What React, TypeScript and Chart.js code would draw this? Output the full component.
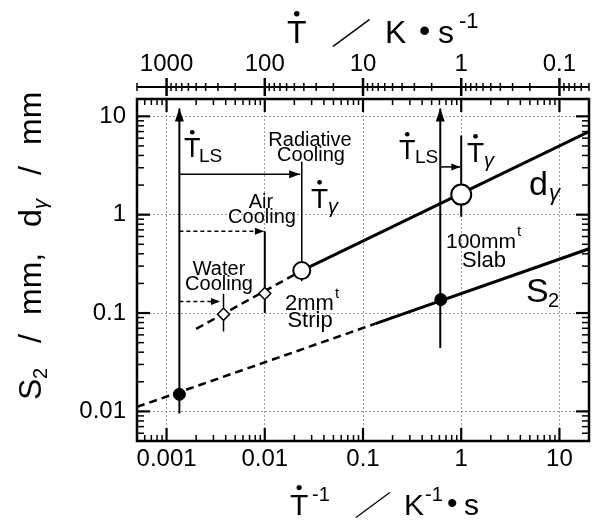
import React, { useEffect, useRef } from 'react';
import { Chart, registerables } from 'chart.js';

Chart.register(...registerables);

const FONT = '"Liberation Sans", Arial, Helvetica, sans-serif';
const CJK = '"Noto Sans CJK JP", "Liberation Sans", sans-serif';

// ---- axis ranges and tick labels ----
const xRange = [0.0005, 20];
const yRange = [0.005, 15];
const bottomTickValues = [0.001, 0.01, 0.1, 1, 10];
const bottomTickLabels = ['0.001', '0.01', '0.1', '1', '10'];
const topTickValues = [1000, 100, 10, 1, 0.1];
const topTickLabels = ['1000', '100', '10', '1', '0.1'];
const leftTickValues = [0.01, 0.1, 1, 10];
const leftTickLabels = ['0.01', '0.1', '1', '10'];

// ---- series (x = 1/Tdot [K^-1 s], y = size [mm]) ----
const dGammaSolid = [{ x: 0.0238, y: 0.27 }, { x: 20, y: 7.0 }];
const dGammaDashed = [{ x: 0.002, y: 0.069 }, { x: 0.0238, y: 0.27 }];
const s2Solid = [{ x: 0.134, y: 0.078 }, { x: 20, y: 0.45 }];
const s2Dashed = [{ x: 0.0005, y: 0.0111 }, { x: 0.134, y: 0.078 }];
const stripPoint = [{ x: 0.0238, y: 0.27 }];
const slabPoint = [{ x: 1, y: 1.6 }];
const s2Points = [{ x: 0.00135, y: 0.0149 }, { x: 0.62, y: 0.137 }];
const coolingPoints = [{ x: 0.0038, y: 0.097 }, { x: 0.01, y: 0.158 }];

// vertical marker lines
const tlsLeftLine = [{ x: 0.00135, y: 0.0095 }, { x: 0.00135, y: 12 }];
const tlsRightLine = [{ x: 0.612, y: 0.044 }, { x: 0.612, y: 12 }];
const radiativeLine = [{ x: 0.0238, y: 3.46 }, { x: 0.0238, y: 0.21 }];
const slabLine = [{ x: 1, y: 6.4 }, { x: 1, y: 0.95 }];
const airLine = [{ x: 0.01, y: 0.68 }, { x: 0.01, y: 0.1 }];
const waterLine = [{ x: 0.0038, y: 0.157 }, { x: 0.0038, y: 0.065 }];

// horizontal arrows
const radiativeArrow = [{ x: 0.00135, y: 2.57 }, { x: 0.0229, y: 2.57 }];
const airArrow = [{ x: 0.00135, y: 0.68 }, { x: 0.0098, y: 0.68 }];
const waterArrow = [{ x: 0.00135, y: 0.131 }, { x: 0.0035, y: 0.131 }];
const slabArrow = [{ x: 0.612, y: 3.06 }, { x: 0.98, y: 3.06 }];

const GRID = '#9a9a9a';

function logTicks(min: number, max: number): number[] {
  const out: number[] = [];
  for (let e = Math.floor(Math.log10(min)); e <= Math.ceil(Math.log10(max)); e++) {
    for (let k = 1; k <= 9; k++) {
      const v = Number((k * Math.pow(10, e)).toPrecision(6));
      if (v >= min * 0.99999 && v <= max * 1.00001) out.push(v);
    }
  }
  return out;
}
const isDecade = (v: number) => {
  if (!(v > 0)) return false;
  const l = Math.log10(v);
  return Math.abs(l - Math.round(l)) < 1e-6;
};
const findLabel = (v: number, vals: number[], labels: string[]) => {
  for (let i = 0; i < vals.length; i++) if (Math.abs(v / vals[i] - 1) < 1e-6) return labels[i];
  return '';
};

const xTicksAll = logTicks(xRange[0], xRange[1]);
const yTicksAll = logTicks(yRange[0], yRange[1]);
const topTicksAll = logTicks(1 / xRange[1], 1 / xRange[0]); // cooling-rate ticks

const lineDs = (data: any[], width: number, dash: number[] = []) => ({
  data,
  showLine: true,
  borderColor: '#000',
  borderWidth: width,
  borderDash: dash,
  pointRadius: 0,
  pointHoverRadius: 0,
  fill: false,
  tension: 0,
  order: 2,
});

function head(ctx: CanvasRenderingContext2D, x1: number, y1: number, x2: number, y2: number, len: number, hw: number) {
  const dx = x2 - x1, dy = y2 - y1;
  const d = Math.hypot(dx, dy) || 1;
  const ux = dx / d, uy = dy / d;
  ctx.beginPath();
  ctx.moveTo(x2, y2);
  ctx.lineTo(x2 - ux * len - uy * hw, y2 - uy * len + ux * hw);
  ctx.lineTo(x2 - ux * len + uy * hw, y2 - uy * len - ux * hw);
  ctx.closePath();
  ctx.fill();
}

function dotT(ctx: CanvasRenderingContext2D, x: number, base: number, size: number) {
  ctx.font = `${size}px ${FONT}`;
  ctx.textAlign = 'left';
  ctx.fillText('T', x, base);
  const w = ctx.measureText('T').width;
  ctx.beginPath();
  ctx.arc(x + w / 2, base - size * 0.716 - size * 0.2, size * 0.085, 0, Math.PI * 2);
  ctx.fill();
}

function txt(ctx: CanvasRenderingContext2D, s: string, x: number, y: number, size: number, align: CanvasTextAlign = 'left', style = '', family = FONT) {
  ctx.font = `${style} ${size}px ${family}`;
  ctx.textAlign = align;
  ctx.fillText(s, x, y);
  return ctx.measureText(s).width;
}

function slash(ctx: CanvasRenderingContext2D, x: number, base: number, size: number, sx: number) {
  ctx.save();
  ctx.translate(x, base);
  ctx.scale(sx, 1);
  txt(ctx, '／', 0, 0, size, 'left', '', CJK);
  ctx.restore();
}

const decorPlugin = {
  id: 'decor',
  afterDatasetsDraw(chart: any) {
    const ctx: CanvasRenderingContext2D = chart.ctx;
    const { left, right, top, bottom } = chart.chartArea;
    const xs = chart.scales.x, ys = chart.scales.y;
    const X = (v: number) => xs.getPixelForValue(v);
    const Y = (v: number) => ys.getPixelForValue(v);
    const seg = (a: number, b: number, c: number, d: number) => {
      ctx.beginPath(); ctx.moveTo(a, b); ctx.lineTo(c, d); ctx.stroke();
    };
    ctx.save();
    ctx.fillStyle = '#000';
    ctx.strokeStyle = '#000';
    ctx.textBaseline = 'alphabetic';

    // arrowheads
    const arrows: [any[], number, number][] = [
      [radiativeArrow, 11, 4],
      [airArrow, 9, 3.5],
      [waterArrow, 9, 3.5],
      [slabArrow, 9, 3.5],
      [tlsLeftLine, 13, 4.5],
      [tlsRightLine, 13, 4.5],
    ];
    for (const [pts, len, hw] of arrows) {
      const a = pts[pts.length - 2], b = pts[pts.length - 1];
      head(ctx, X(a.x), Y(a.y), X(b.x), Y(b.y), len, hw);
    }

    // frame
    ctx.lineWidth = 2.5;
    ctx.strokeRect(left, top, right - left, bottom - top);

    // inner ticks
    for (const v of xTicksAll) {
      const px = X(v);
      if (px <= left + 1 || px >= right - 1) continue;
      const maj = isDecade(v);
      ctx.lineWidth = maj ? 2.2 : 1.5;
      const len = maj ? 13 : 6;
      seg(px, bottom, px, bottom - len);
      seg(px, top, px, top + len);
    }
    for (const v of yTicksAll) {
      const py = Y(v);
      if (py <= top + 1 || py >= bottom - 1) continue;
      const maj = isDecade(v);
      ctx.lineWidth = maj ? 2.2 : 1.5;
      const len = maj ? 13 : 7;
      seg(left, py, left + len, py);
      seg(right, py, right - len, py);
    }

    // top cooling-rate axis line
    const axisY = 87;
    ctx.lineWidth = 2;
    seg(left, axisY, right, axisY);
    for (const T of topTicksAll) {
      const px = X(1 / T);
      const maj = isDecade(T);
      ctx.lineWidth = maj ? 2.5 : 1.5;
      const h = maj ? 9 : 4;
      seg(px, axisY - h, px, axisY + h);
    }

    // ---- axis titles ----
    // top
    dotT(ctx, 287, 43, 32);
    slash(ctx, 331, 44, 30, 1.35);
    txt(ctx, 'K', 385, 43, 32);
    txt(ctx, '•', 419, 41, 32);
    txt(ctx, 's', 438, 43, 32);
    txt(ctx, '-1', 459, 28, 22);
    // bottom
    dotT(ctx, 290, 515, 30);
    txt(ctx, '-1', 312, 501, 20);
    slash(ctx, 354, 516, 28, 1.35);
    txt(ctx, 'K', 404, 515, 30);
    txt(ctx, '-1', 425, 501, 20);
    txt(ctx, '•', 447, 513, 30);
    txt(ctx, 's', 464, 515, 30);
    // left (rotated)
    ctx.save();
    ctx.translate(41, 245);
    ctx.rotate(-Math.PI / 2);
    txt(ctx, 'S', -155, 0, 32);
    txt(ctx, '2', -134, 6, 20);
    txt(ctx, '/', -98, 0, 32);
    txt(ctx, 'mm,', -70, 0, 32);
    txt(ctx, 'd', 18, 0, 32);
    txt(ctx, 'γ', 36, 6, 20, 'left', 'italic');
    txt(ctx, '/', 70, 0, 32);
    txt(ctx, 'mm', 100, 0, 32);
    ctx.restore();

    // ---- annotations ----
    // left Tdot_LS
    dotT(ctx, 184, 157, 27);
    txt(ctx, 'LS', 199, 162, 19);
    // right Tdot_LS
    dotT(ctx, 399, 159, 27);
    txt(ctx, 'LS', 415, 163, 19);
    // left Tdot_gamma
    dotT(ctx, 311, 208, 28);
    txt(ctx, 'γ', 328, 213, 20, 'left', 'italic');
    // right Tdot_gamma
    dotT(ctx, 467, 162, 28);
    txt(ctx, 'γ', 484, 167, 20, 'left', 'italic');
    // curve labels
    txt(ctx, 'd', 529, 195, 34);
    txt(ctx, 'γ', 549, 200, 22, 'left', 'italic');
    txt(ctx, 'S', 526, 302, 34);
    txt(ctx, '2', 548, 307, 20);
    // cooling labels
    txt(ctx, 'Radiative', 310, 146, 20, 'center');
    txt(ctx, 'Cooling', 311, 161, 20, 'center');
    txt(ctx, 'Air', 261, 208, 20, 'center');
    txt(ctx, 'Cooling', 262, 223, 20, 'center');
    txt(ctx, 'Water', 219, 275, 20, 'center');
    txt(ctx, 'Cooling', 219, 290, 20, 'center');
    // product labels
    const w1 = txt(ctx, '2mm', 285, 310, 22);
    txt(ctx, 't', 285 + w1 + 1, 298, 15);
    txt(ctx, 'Strip', 310, 327, 22, 'center');
    const w2 = txt(ctx, '100mm', 446, 248, 21);
    txt(ctx, 't', 446 + w2 + 1, 236, 15);
    txt(ctx, 'Slab', 484, 267, 22, 'center');

    ctx.restore();
  },
};

export default function App() {
  const ref = useRef<HTMLCanvasElement | null>(null);
  useEffect(() => {
    const canvas = ref.current;
    if (!canvas) return;
    const tickFont = { family: FONT, size: 24 };
    const gridColor = (c: any) => (c.tick && isDecade(c.tick.value) ? GRID : 'rgba(0,0,0,0)');
    const chart = new Chart(canvas, {
      type: 'scatter',
      data: {
        datasets: [
          { data: stripPoint, pointStyle: 'circle', pointRadius: 8.5, pointBackgroundColor: '#fff', pointBorderColor: '#000', pointBorderWidth: 2, order: 0 },
          { data: slabPoint, pointStyle: 'circle', pointRadius: 10, pointBackgroundColor: '#fff', pointBorderColor: '#000', pointBorderWidth: 2, order: 0 },
          { data: s2Points, pointStyle: 'circle', pointRadius: 6, pointBackgroundColor: '#000', pointBorderColor: '#000', pointBorderWidth: 1, order: 0 },
          { data: coolingPoints, pointStyle: 'rectRot', pointRadius: 6, pointBackgroundColor: '#fff', pointBorderColor: '#000', pointBorderWidth: 1.5, order: 0 },
          lineDs(dGammaSolid, 3),
          lineDs(dGammaDashed, 2.5, [8, 5]),
          lineDs(s2Solid, 3),
          lineDs(s2Dashed, 2.5, [8, 5]),
          lineDs(tlsLeftLine, 2),
          lineDs(tlsRightLine, 2),
          lineDs(radiativeLine, 1.5),
          lineDs(slabLine, 2),
          lineDs(airLine, 2),
          lineDs(waterLine, 1.5),
          lineDs(radiativeArrow, 1.5),
          lineDs(airArrow, 1.5, [4, 3]),
          lineDs(waterArrow, 1.5, [4, 3]),
          lineDs(slabArrow, 1.5),
        ] as any,
      },
      options: {
        responsive: false,
        animation: false,
        devicePixelRatio: 1,
        events: [],
        layout: { padding: { left: 0, right: 10, top: 0, bottom: 0 } },
        plugins: { legend: { display: false }, tooltip: { enabled: false }, title: { display: false } },
        scales: {
          x: {
            type: 'logarithmic',
            position: 'bottom',
            min: xRange[0],
            max: xRange[1],
            afterBuildTicks: (s: any) => { s.ticks = xTicksAll.map((v) => ({ value: v, major: isDecade(v) })); },
            afterFit: (s: any) => { s.height = 79; },
            grid: { color: gridColor, drawTicks: false, lineWidth: 1 },
            border: { display: false, dash: [2, 2] },
            ticks: {
              autoSkip: false, maxRotation: 0, minRotation: 0, padding: 4, color: '#000', font: tickFont,
              callback: (v: any) => findLabel(Number(v), bottomTickValues, bottomTickLabels),
            },
          },
          x2: {
            type: 'logarithmic',
            position: 'top',
            min: xRange[0],
            max: xRange[1],
            afterBuildTicks: (s: any) => { s.ticks = topTicksAll.map((T) => ({ value: 1 / T, major: isDecade(T) })); },
            afterFit: (s: any) => { s.height = 99; },
            grid: { display: false, drawTicks: false },
            border: { display: false },
            ticks: {
              autoSkip: false, maxRotation: 0, minRotation: 0, padding: 20, color: '#000', font: tickFont,
              callback: (v: any) => findLabel(1 / Number(v), topTickValues, topTickLabels),
            },
          },
          y: {
            type: 'logarithmic',
            position: 'left',
            min: yRange[0],
            max: yRange[1],
            afterBuildTicks: (s: any) => { s.ticks = yTicksAll.map((v) => ({ value: v, major: isDecade(v) })); },
            afterFit: (s: any) => { s.width = 137; },
            grid: { color: gridColor, drawTicks: false, lineWidth: 1 },
            border: { display: false, dash: [2, 2] },
            ticks: {
              autoSkip: false, padding: 11, color: '#000', font: tickFont,
              callback: (v: any) => findLabel(Number(v), leftTickValues, leftTickLabels),
            },
          },
        },
      } as any,
      plugins: [decorPlugin],
    });
    return () => chart.destroy();
  }, []);
  return (
    <div style={{ position: 'fixed', left: 0, top: 0, width: 601, height: 520, background: '#fff' }}>
      <canvas ref={ref} width={601} height={520} style={{ width: 601, height: 520, display: 'block' }} />
    </div>
  );
}
